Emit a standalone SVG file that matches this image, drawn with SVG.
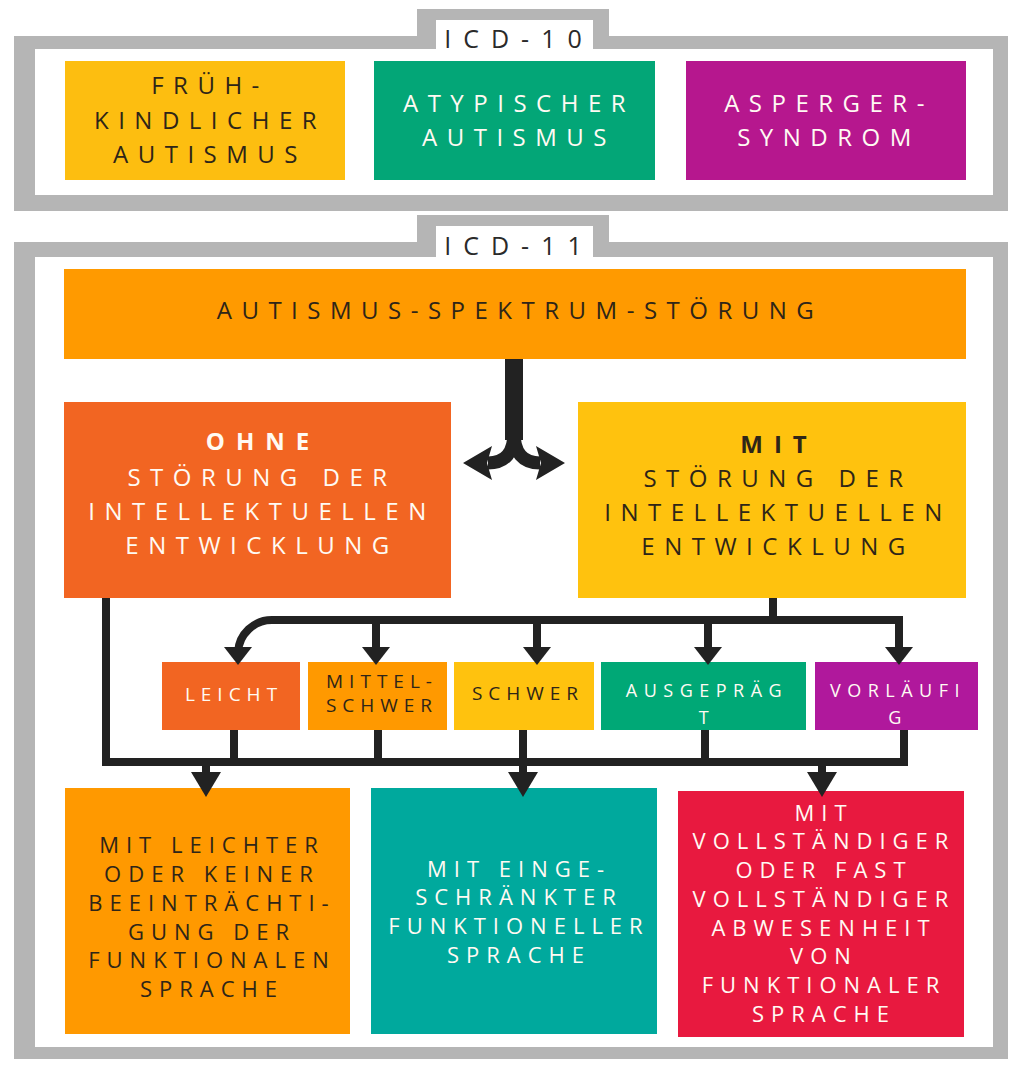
<svg xmlns="http://www.w3.org/2000/svg" width="1012" height="1065" viewBox="0 0 1012 1065">
<defs>
<style>
.t{font-family:"Open Sans","DejaVu Sans",sans-serif;text-anchor:middle;font-weight:500}
.m{font-size:24px;letter-spacing:9.5px}
.s{font-size:19px;letter-spacing:6px}
.s2{font-size:18px;letter-spacing:6.5px}
.b{font-size:22px;letter-spacing:7px}
.lab{font-size:25px;letter-spacing:12px;fill:#2a2a2a;font-weight:400}
.bd{font-weight:700;letter-spacing:11px}
.dk{fill:#2e2518}
.wh{fill:#fffaf3}
.gray{fill:#b5b5b5}
.white{fill:#ffffff}
.ln{fill:none;stroke:#222222;stroke-width:8;stroke-linejoin:miter}
.hd{fill:#222222}
</style>
</defs>
<rect width="1012" height="1065" fill="#ffffff"/>

<g id="frame-icd10">
<path class="gray" d="M14,36 H417 V9 H609 V36 H1008 V211 H14 Z"/>
<path class="white" d="M35,49 H436 V20 H593 V49 H993 V195 H35 Z"/>
<text class="t lab" x="519" y="48">ICD-10</text>
</g>

<g id="frame-icd11">
<path class="gray" d="M14,242 H417 V215 H609 V242 H1008 V1059 H14 Z"/>
<path class="white" d="M35,257 H436 V226 H593 V257 H993 V1047 H35 Z"/>
<text class="t lab" x="519" y="255">ICD-11</text>
</g>

<g id="fruehkindlicher-autismus">
<rect x="65" y="61" width="280" height="119" fill="#FDBE10"/>
<text class="t m dk" x="210" y="94">FRÜH-</text>
<text class="t m dk" x="210" y="129">KINDLICHER</text>
<text class="t m dk" x="210" y="163">AUTISMUS</text>
</g>

<g id="atypischer-autismus">
<rect x="374" y="61" width="281" height="119" fill="#03A677"/>
<text class="t m wh" x="519" y="112">ATYPISCHER</text>
<text class="t m wh" x="519" y="146">AUTISMUS</text>
</g>

<g id="asperger-syndrom">
<rect x="686" y="61" width="280" height="119" fill="#B6178E"/>
<text class="t m wh" x="829" y="112">ASPERGER-</text>
<text class="t m wh" x="829" y="146">SYNDROM</text>
</g>

<g id="autismus-spektrum-stoerung">
<rect x="64" y="269" width="902" height="90" fill="#FF9A00"/>
<text class="t m dk" x="520" y="319">AUTISMUS-SPEKTRUM-STÖRUNG</text>
</g>

<g id="ohne-stoerung">
<rect x="64" y="402" width="387" height="196" fill="#F26522"/>
<text class="t m bd wh" x="263" y="450">OHNE</text>
<text class="t m wh" x="262" y="486">STÖRUNG DER</text>
<text class="t m wh" x="262" y="520">INTELLEKTUELLEN</text>
<text class="t m wh" x="262" y="554">ENTWICKLUNG</text>
</g>

<g id="mit-stoerung">
<rect x="578" y="402" width="388" height="196" fill="#FFC20E"/>
<text class="t m bd dk" x="779" y="453">MIT</text>
<text class="t m dk" x="778" y="487">STÖRUNG DER</text>
<text class="t m dk" x="778" y="521">INTELLEKTUELLEN</text>
<text class="t m dk" x="778" y="555">ENTWICKLUNG</text>
</g>

<g id="leicht">
<rect x="162" y="662" width="138" height="68" fill="#F26522"/>
<text class="t s wh" x="234" y="701">LEICHT</text>
</g>

<g id="mittelschwer">
<rect x="308" y="662" width="139" height="68" fill="#FF9900"/>
<text class="t s dk" x="382" y="688">MITTEL-</text>
<text class="t s dk" x="382" y="712">SCHWER</text>
</g>

<g id="schwer">
<rect x="454" y="662" width="140" height="68" fill="#FFC20E"/>
<text class="t s dk" x="528" y="700">SCHWER</text>
</g>

<g id="ausgepraegt">
<rect x="601" y="662" width="205" height="68" fill="#00A876"/>
<text class="t s2 wh" x="707" y="697">AUSGEPRÄG</text>
<text class="t s2 wh" x="707" y="724">T</text>
</g>

<g id="vorlaeufig">
<rect x="815" y="662" width="163" height="68" fill="#B0189C"/>
<text class="t s2 wh" x="898" y="697">VORLÄUFI</text>
<text class="t s2 wh" x="898" y="724">G</text>
</g>

<g id="leichte-beeintraechtigung">
<rect x="65" y="788" width="285" height="246" fill="#FF9900"/>
<text class="t b dk" x="212" y="853">MIT LEICHTER</text>
<text class="t b dk" x="212" y="882">ODER KEINER</text>
<text class="t b dk" x="212" y="911">BEEINTRÄCHTI-</text>
<text class="t b dk" x="212" y="940">GUNG DER</text>
<text class="t b dk" x="212" y="968">FUNKTIONALEN</text>
<text class="t b dk" x="212" y="997">SPRACHE</text>
</g>

<g id="eingeschraenkte-sprache">
<rect x="371" y="788" width="286" height="246" fill="#00A99D"/>
<text class="t b wh" x="519" y="877">MIT EINGE-</text>
<text class="t b wh" x="519" y="905">SCHRÄNKTER</text>
<text class="t b wh" x="519" y="934">FUNKTIONELLER</text>
<text class="t b wh" x="519" y="963">SPRACHE</text>
</g>

<g id="abwesenheit-sprache">
<rect x="678" y="791" width="286" height="246" fill="#E8193F"/>
<text class="t b wh" x="824" y="821">MIT</text>
<text class="t b wh" x="824" y="849">VOLLSTÄNDIGER</text>
<text class="t b wh" x="824" y="878">ODER FAST</text>
<text class="t b wh" x="824" y="907">VOLLSTÄNDIGER</text>
<text class="t b wh" x="824" y="936">ABWESENHEIT</text>
<text class="t b wh" x="824" y="964">VON</text>
<text class="t b wh" x="824" y="993">FUNKTIONALER</text>
<text class="t b wh" x="824" y="1022">SPRACHE</text>
</g>

<g id="connectors">
<path d="M514,359 V440" fill="none" stroke="#222222" stroke-width="18"/>
<path d="M514,432 Q514,463 488,463 M514,432 Q514,463 540,463" fill="none" stroke="#222222" stroke-width="13"/>
<polygon class="hd" points="463,463 492,446 487,463 492,480"/>
<polygon class="hd" points="565,463 536,446 541,463 536,480"/>
<path class="ln" d="M773,598 V620"/>
<path class="ln" d="M238,652 A34,34 0 0 1 272,620 H899 V650"/>
<path class="ln" d="M376,620 V650 M537,620 V650 M708,620 V650"/>
<polygon class="hd" points="224,647 252,647 238,665"/>
<polygon class="hd" points="362,647 390,647 376,665"/>
<polygon class="hd" points="523,647 551,647 537,665"/>
<polygon class="hd" points="694,647 722,647 708,665"/>
<polygon class="hd" points="885,647 913,647 899,665"/>
<path class="ln" d="M106,598 V762 H904 V730"/>
<path class="ln" d="M234,730 V762 M378,730 V762 M705,730 V762 M523,730 V776 M206,762 V776 M822,762 V776"/>
<polygon class="hd" points="191,772 221,772 206,797"/>
<polygon class="hd" points="508,772 538,772 523,797"/>
<polygon class="hd" points="807,772 837,772 822,797"/>
</g>
</svg>
